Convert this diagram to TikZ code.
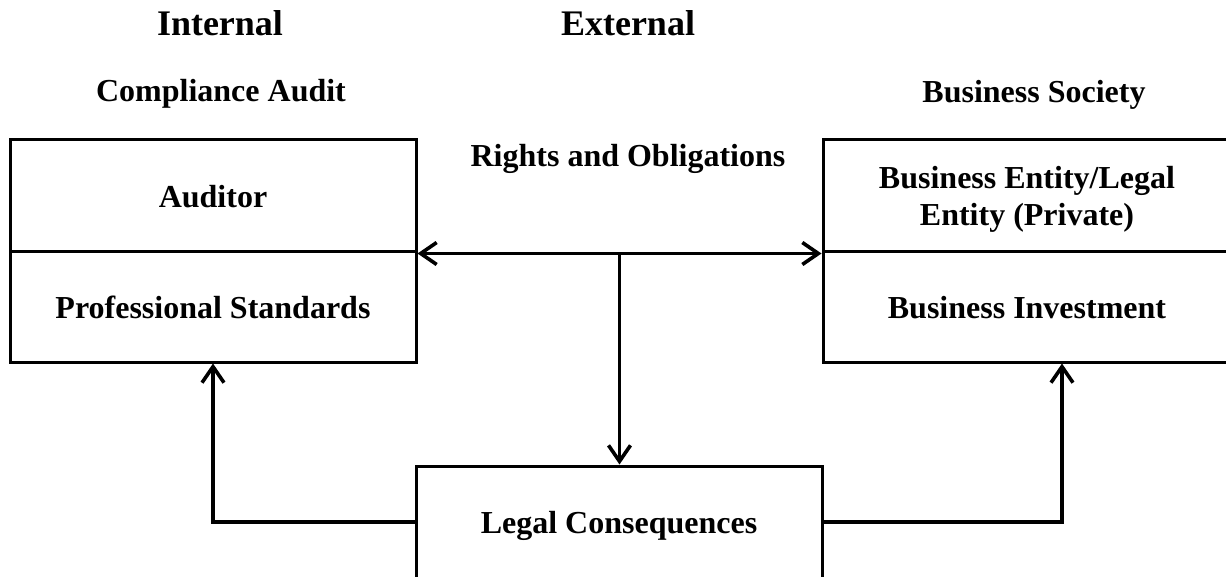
\documentclass[tikz,border=0pt]{standalone}
\usepackage{fontspec}
\setmainfont{Liberation Serif}
\usetikzlibrary{arrows.meta,positioning,calc}

\begin{document}
\begin{tikzpicture}[x=0.5pt,y=-0.5pt,>={Straight Barb[length=8pt,width=11pt]},
  every node/.style={font=\bfseries\fontsize{16}{18.5}\selectfont},
  head/.style={font=\bfseries\fontsize{18}{21}\selectfont,anchor=base},
  lbl/.style={anchor=base},
  box/.style={draw,line width=1.5pt,inner sep=0pt,text depth=0pt,align=center},
  link/.style={line width=1.8pt}]
\path[use as bounding box] (0,0) rectangle (1226,577);
\clip (0,0) rectangle (1226,577);
\node[head] (int) at (220,36) {Internal};
\node[head] (ext) at (628,36) {External};
\node[lbl] (comp) at (221,102) {Compliance Audit};
\node[lbl] (soc) at (1034,103) {Business Society};
\node[lbl] (rights) at (628,167) {Rights and Obligations};
\node[box,minimum width=203pt,minimum height=56pt] (aud) at (213,196) {Auditor};
\node[box,minimum width=203pt,minimum height=55pt] (prof) at (213,307) {Professional Standards};
\node[box,minimum width=204pt,minimum height=56pt] (ent) at (1027,196) {Business Entity/Legal\\Entity (Private)};
\node[box,minimum width=204pt,minimum height=55pt] (inv) at (1027,307) {Business Investment};
\node[box,minimum width=203pt,minimum height=56pt] (cons) at (619,522) {Legal Consequences};
\coordinate (mid) at ($(aud.south east)!0.5!(ent.south west)$);
\coordinate (invin) at ($(inv.south)+(35,0)$);
\draw[link,<->] (aud.south east) -- (ent.south west);
\draw[link,->] (mid) -- (mid |- cons.north);
\draw[link,->] (cons.west) -| (prof.south);
\draw[link,->] (cons.east) -| (invin);
\end{tikzpicture}
\end{document}
